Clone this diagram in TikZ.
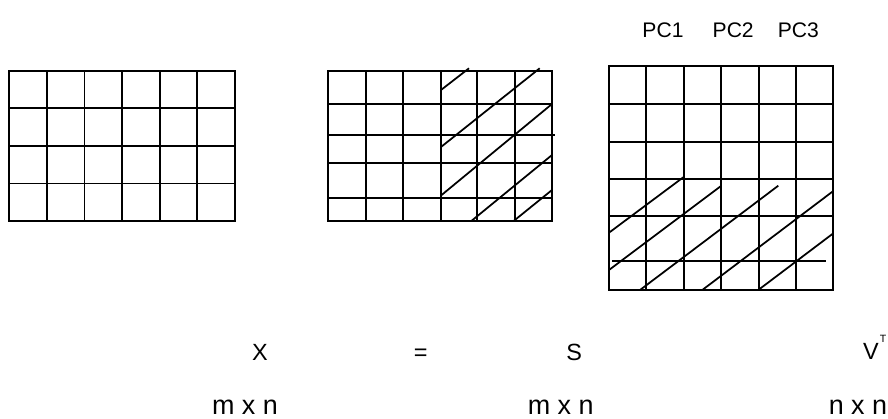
\documentclass[tikz,border=0pt]{standalone}
\usepackage{fontspec}
\setmainfont{Liberation Sans}
\begin{document}
\begin{tikzpicture}[x=0.03cm, y=-0.03cm,
    gridline/.style={line width=1.6pt, line cap=rect},
    hatch/.style={line width=1.5pt},
    matlabel/.style={font=\fontsize{20}{24}\selectfont, inner sep=0pt, anchor=base},
    dimlabel/.style={font=\fontsize{23}{26}\selectfont, inner sep=0pt, anchor=base},
    pclabel/.style={font=\fontsize{18}{22}\selectfont, inner sep=0pt, anchor=base}
]
\useasboundingbox (0,0) rectangle (888,419);

% Grid X (m x n)
\foreach \x in {0,...,6}
    \draw[gridline] (9.3+37.6*\x,70.7) -- (9.3+37.6*\x,221);
\foreach \y in {0,...,4}
    \draw[gridline] (9.3,70.7+37.6*\y) -- (235,70.7+37.6*\y);

% Grid S (m x n)
\foreach \x in {327.7,365.7,403.3,441,477.3,514.7,552.3}
    \draw[gridline] (\x,70.7) -- (\x,220.7);
\foreach \y in {70.7,104,163.3,197.7,220.7}
    \draw[gridline] (327.7,\y) -- (552.3,\y);
\draw[gridline] (327.7,134.7) -- (554,134.7);

% Grid V (n x n)
\foreach \x in {0,...,6}
    \draw[gridline] (609+37.4*\x,66) -- (609+37.4*\x,290);
\foreach \y in {66,103.7,141.7,179,215.7,290}
    \draw[gridline] (609,\y) -- (833.3,\y);
\draw[gridline] (613.3,261) -- (825,261);

% Hatching
\foreach \xa/\ya/\xb/\yb in {441/90/469/68.3, 441/147/539.7/68.3, 441/195.5/552/104,
    471.7/220.7/552/155, 514/220.7/552/190}
    \draw[hatch] (\xa,\ya) -- (\xb,\yb);
\foreach \xa/\ya/\xb/\yb in {609/232.7/683.3/177.3, 609/270/721/186, 640/290/778.3/185.7,
    702.3/290/833.3/191, 758.3/290/833.3/233.3}
    \draw[hatch] (\xa,\ya) -- (\xb,\yb);

% Labels
\node[pclabel] (pc1) at (663,37.3) {PC1};
\node[pclabel] (pc2) at (733.2,37.3) {PC2};
\node[pclabel] (pc3) at (798.4,37.3) {PC3};

\node[matlabel] (X) at (260,360) {X};
\node[matlabel] (eq) at (420.7,360) {=};
\node[matlabel] (S) at (574.3,360) {S};
\node[matlabel] (V) at (871,359) {V};
\node[font=\fontsize{9}{10}\selectfont, inner sep=0pt, anchor=base] (T) at (883,342.7) {T};

\node[dimlabel] (dimX) at (245,414.5) {m x n};
\node[dimlabel] (dimS) at (560.7,414.5) {m x n};
\node[dimlabel] (dimV) at (858,414.5) {n x n};
\end{tikzpicture}
\end{document}
